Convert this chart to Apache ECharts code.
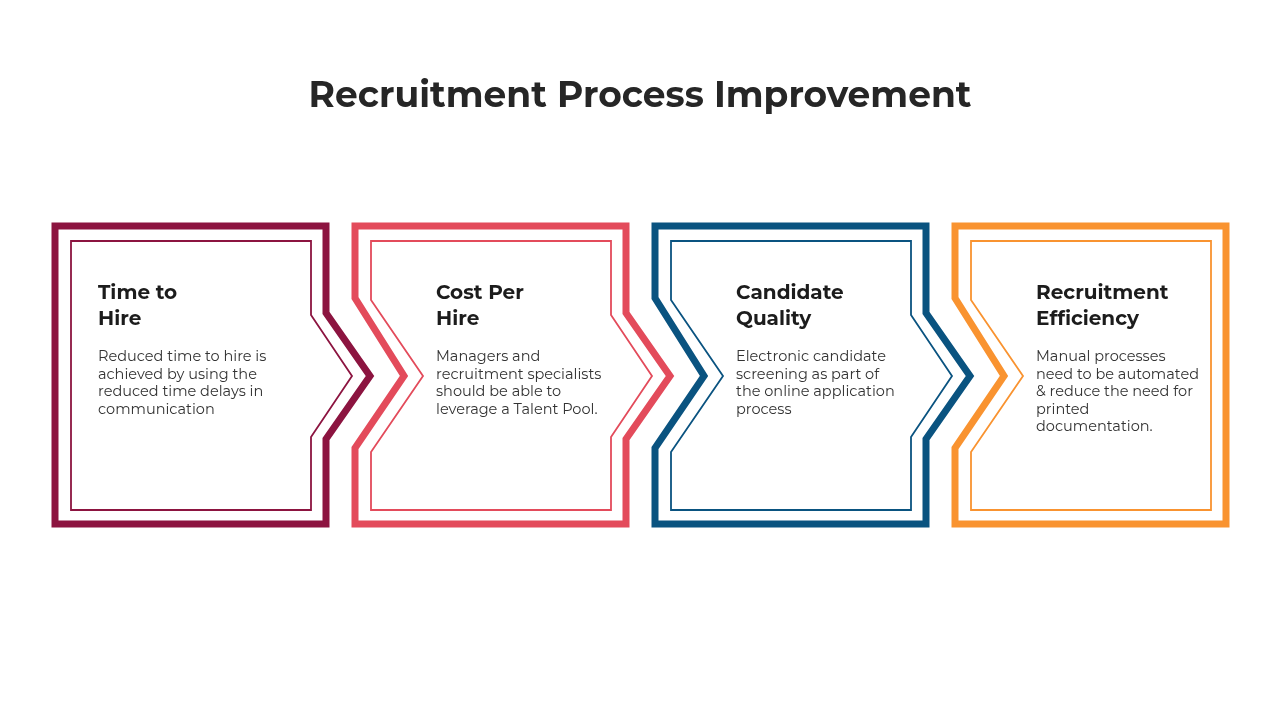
<!DOCTYPE html>
<html>
<head>
<meta charset="UTF-8">
<title>Recruitment Process Improvement</title>
<script src="https://cdn.jsdelivr.net/npm/echarts@6/dist/echarts.min.js"></script>
<style>
  html, body { margin: 0; padding: 0; background: #fff; }
  #main { width: 1280px; height: 720px; }
</style>
</head>
<body>
<div id="main"></div>
<script type="text/javascript">
  // chart content
  var titleText = 'Recruitment Process Improvement';
  var stepNames = ['Time to\nHire', 'Cost Per\nHire', 'Candidate\nQuality', 'Recruitment\nEfficiency'];
  var stepTexts = [
    'Reduced time to hire is\nachieved by using the\nreduced time delays in\ncommunication',
    'Managers and\nrecruitment specialists\nshould be able to\nleverage a Talent Pool.',
    'Electronic candidate\nscreening as part of\nthe online application\nprocess',
    'Manual processes\nneed to be automated\n& reduce the need for\nprinted\ndocumentation.'
  ];
  var stepColors = ['#8c1440', '#e34b5b', '#0a5380', '#f99330'];

  var FONT = 'Montserrat, Inter, "Noto Sans", sans-serif';
  var myChart = echarts.init(document.getElementById('main'));

  function renderStep(params, api) {
    var i = api.value(0);
    var n = stepNames.length;
    var L = 55 + i * 300, R = L + 271, T = 226, B = 524, M = 376;
    var l = L + 16, r = R - 15, t = 241, b = 510;
    var outer = [[L, T], [R, T]];
    var inner = [[l, t], [r, t]];
    if (i < n - 1) {
      outer.push([R, 313], [R + 44, M], [R, 439]);
      inner.push([r, 315], [r + 41, M], [r, 437]);
    }
    outer.push([R, B], [L, B]);
    inner.push([r, b], [l, b]);
    if (i > 0) {
      outer.push([L, 448], [L + 49, M], [L, 298]);
      inner.push([l, 452], [l + 52, M], [l, 300]);
    }
    var map = function (p) { return api.coord(p); };
    var tx = i === 0 ? L + 43 : L + 81;
    var c = stepColors[i];
    return {
      type: 'group',
      children: [
        { type: 'polygon', shape: { points: outer.map(map) },
          style: { fill: 'none', stroke: c, lineWidth: 7, lineJoin: 'miter' } },
        { type: 'polygon', shape: { points: inner.map(map) },
          style: { fill: 'none', stroke: c, lineWidth: 1.8, lineJoin: 'miter' } },
        { type: 'text', position: api.coord([tx, 280]),
          style: { text: stepNames[i], fill: '#1c1c1c', font: 'bold 20px ' + FONT,
                   lineHeight: 26, textVerticalAlign: 'top' } },
        { type: 'text', position: api.coord([tx, 348]),
          style: { text: stepTexts[i], fill: '#333', font: '14.5px ' + FONT,
                   lineHeight: 17.5, textVerticalAlign: 'top' } }
      ]
    };
  }

  var option = {
    animation: false,
    title: {
      text: titleText, left: 'center', top: 73,
      textStyle: { fontFamily: FONT, fontSize: 36, fontWeight: 'bold', color: '#262626' }
    },
    grid: { left: 0, right: 0, top: 0, bottom: 0 },
    xAxis: { type: 'value', min: 0, max: 1280, show: false },
    yAxis: { type: 'value', min: 0, max: 720, inverse: true, show: false },
    series: [{
      type: 'custom',
      renderItem: renderStep,
      data: stepNames.map(function (s, i) { return [i]; }),
      silent: true
    }]
  };
  myChart.setOption(option);
</script>
</body>
</html>
